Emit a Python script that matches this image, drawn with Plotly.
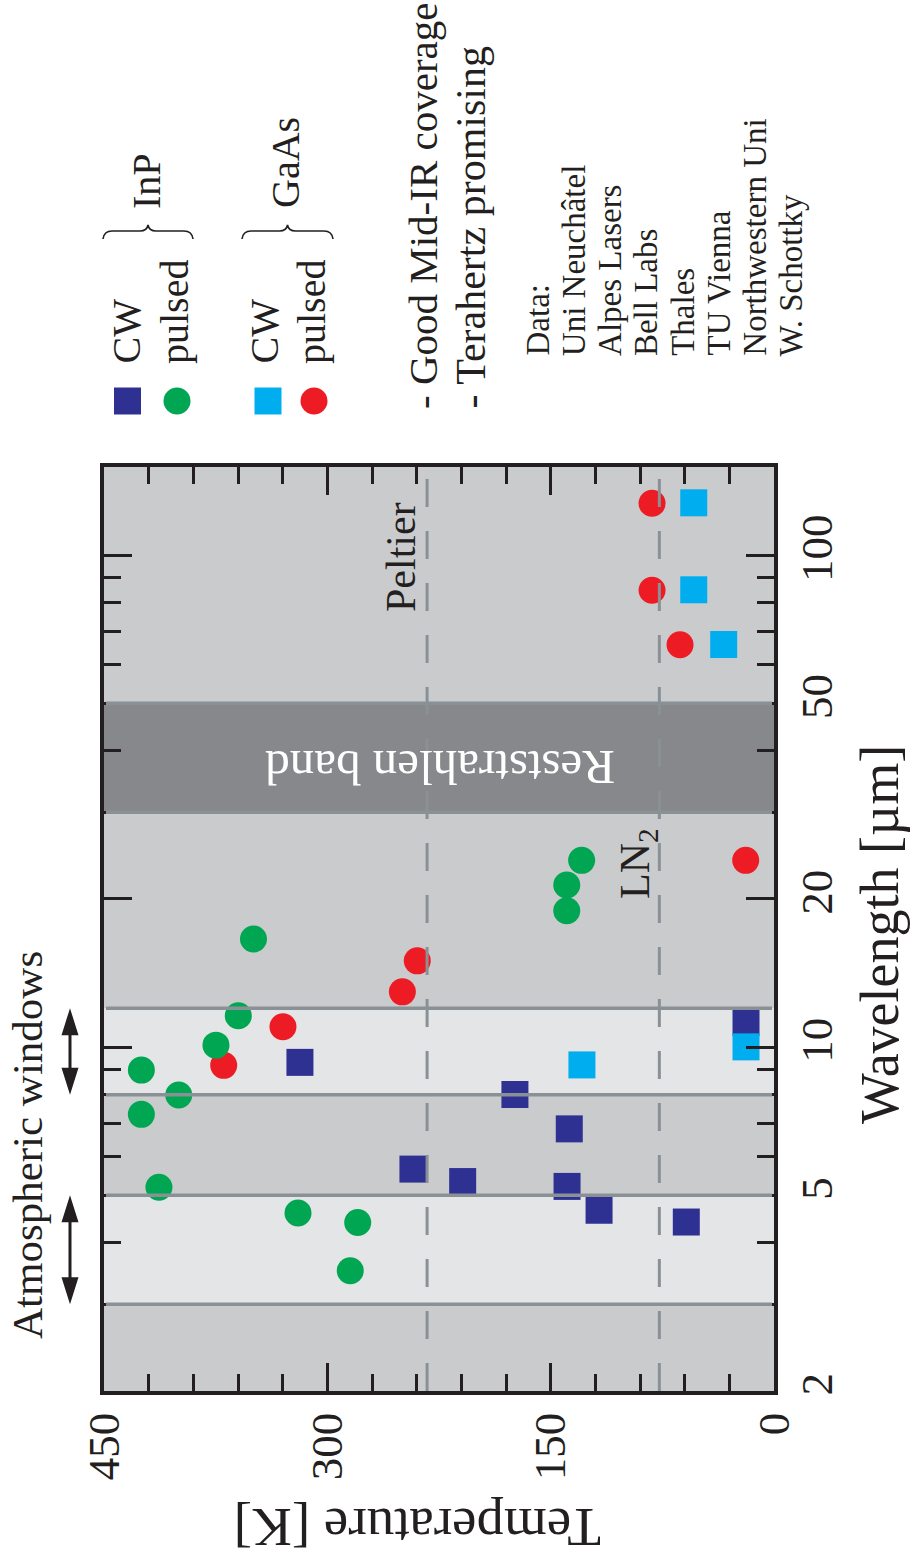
import numpy as np
import plotly.graph_objects as go

# ---------------- data ----------------
inp_cw_T = [318.4, 242.5, 209.1, 174.0, 137.5, 139.0, 117.5, 58.9, 18.8]
inp_cw_wl = [9.31, 5.65, 5.33, 8.01, 6.82, 5.21, 4.66, 4.41, 11.22]

inp_pulsed_T = [424.9, 424.9, 399.8, 413.1, 374.8, 359.8, 349.6, 319.7, 279.6, 284.6, 129.2, 139.2, 139.2]
inp_pulsed_wl = [8.98, 7.30, 7.99, 5.19, 10.09, 11.58, 16.58, 4.60, 4.40, 3.51, 23.96, 21.35, 18.93]

gaas_cw_T = [129.0, 18.8, 33.8, 53.9, 53.9]
gaas_cw_wl = [9.20, 10.01, 65.8, 85.0, 127.7]

gaas_pulsed_T = [369.6, 329.8, 249.6, 239.6, 19.0, 63.1, 81.9, 81.9]
gaas_pulsed_wl = [9.18, 11.0, 12.95, 14.97, 23.96, 65.7, 84.8, 127.4]

atm_windows = [(3, 5), (8, 12)]
reststrahlen = (30, 50)
peltier_T = 233
ln2_T = 77

temp_ticks = [450, 300, 150, 0]
temp_minor = [30, 60, 90, 120, 180, 210, 240, 270, 330, 360, 390, 420]
wl_ticks = [2, 5, 10, 20, 50, 100]
wl_minor = [3, 4, 6, 7, 8, 9, 30, 40, 60, 70, 80, 90]
wl_range = (2, 151)
temp_range = (450, 0)

data_sources = ["Data:", "Uni Neuchâtel", "Alpes Lasers", "Bell Labs", "Thales",
                "TU Vienna", "Northwestern Uni", "W. Schottky"]

# ---------------- styling ----------------
C_INP_CW = "#2e3192"
C_INP_P = "#00a651"
C_GAAS_CW = "#00aeef"
C_GAAS_P = "#ed1c24"
INK = "#231f20"
BG = "#cacbcd"
LIGHT = "#e4e5e6"
DARK = "#87888b"
LINEG = "#8a9196"
FONT = "Liberation Serif"

W, H = 914, 1566
L, R, T, B = 104, 140, 467, 175
PW, PH = W - L - R, H - T - B


def px(p):
    return (p - L) / PW


def py(p):
    return (H - B - p) / PH


Y0, Y1 = np.log10(wl_range[0]), np.log10(wl_range[1])


def wl_paper(v):
    return float((np.log10(v) - Y0) / (Y1 - Y0))


fig = go.Figure()

fig.add_trace(go.Scatter(x=inp_cw_T, y=inp_cw_wl, mode="markers",
                         marker=dict(symbol="square", size=27, color=C_INP_CW, line=dict(width=0))))
fig.add_trace(go.Scatter(x=gaas_cw_T, y=gaas_cw_wl, mode="markers",
                         marker=dict(symbol="square", size=27, color=C_GAAS_CW, line=dict(width=0))))
fig.add_trace(go.Scatter(x=gaas_pulsed_T, y=gaas_pulsed_wl, mode="markers",
                         marker=dict(symbol="circle", size=27, color=C_GAAS_P, line=dict(width=0))))
fig.add_trace(go.Scatter(x=inp_pulsed_T, y=inp_pulsed_wl, mode="markers",
                         marker=dict(symbol="circle", size=27, color=C_INP_P, line=dict(width=0))))

shapes = []
# atmospheric windows (light bands)
for a, b in atm_windows:
    shapes.append(dict(type="rect", xref="paper", yref="paper", x0=0, x1=1,
                       y0=wl_paper(a), y1=wl_paper(b), fillcolor=LIGHT,
                       line=dict(width=0), layer="below"))
# reststrahlen band
shapes.append(dict(type="rect", xref="paper", yref="paper", x0=0, x1=1,
                   y0=wl_paper(reststrahlen[0]), y1=wl_paper(reststrahlen[1]),
                   fillcolor=DARK, line=dict(width=0), layer="below"))
# boundary lines
for v in [w for pair in atm_windows for w in pair] + list(reststrahlen):
    shapes.append(dict(type="line", xref="paper", yref="paper", x0=0.003, x1=0.997,
                       y0=wl_paper(v), y1=wl_paper(v),
                       line=dict(color=LINEG, width=3.5), layer="above"))
# dashed temperature lines
for tv in (peltier_T, ln2_T):
    shapes.append(dict(type="line", xref="x", yref="paper", x0=tv, x1=tv, y0=0, y1=1,
                       line=dict(color=LINEG, width=3, dash="28px,24px"), layer="above"))

# double arrows for atmospheric windows
AX = px(70)
hl = 27 / PH
hw = 8.5 / PW
for a, b in atm_windows:
    ytop = wl_paper(b)
    ybot = wl_paper(a)
    shapes.append(dict(type="line", xref="paper", yref="paper", x0=AX, x1=AX,
                       y0=ybot + hl * 0.7, y1=ytop - hl * 0.7,
                       line=dict(color=INK, width=3)))
    path = (f"M{AX},{ytop} L{AX - hw},{ytop - hl} L{AX + hw},{ytop - hl} Z "
            f"M{AX},{ybot} L{AX - hw},{ybot + hl} L{AX + hw},{ybot + hl} Z")
    shapes.append(dict(type="path", xref="paper", yref="paper", path=path,
                       fillcolor=INK, line=dict(width=0)))


# legend keys
def key_shape(kind, cx, cy, color, s=27):
    return dict(type="rect" if kind == "square" else "circle", xref="paper", yref="paper",
                xsizemode="pixel", ysizemode="pixel", xanchor=px(cx), yanchor=py(cy),
                x0=-s / 2, x1=s / 2, y0=-s / 2, y1=s / 2,
                fillcolor=color, line=dict(width=0))


shapes.append(key_shape("square", 127.5, 401, C_INP_CW))
shapes.append(key_shape("circle", 177, 401, C_INP_P))
shapes.append(key_shape("square", 268, 401, C_GAAS_CW))
shapes.append(key_shape("circle", 314, 401, C_GAAS_P))


# curly braces
def brace(x0, x1, yb, yt, ytip):
    xm = (x0 + x1) / 2
    pts = [
        ("M", [(x0, yb)]),
        ("Q", [(x0 + 1, yt), (x0 + 9, yt)]),
        ("L", [(xm - 8, yt)]),
        ("Q", [(xm - 1, yt), (xm, ytip)]),
        ("Q", [(xm + 1, yt), (xm + 8, yt)]),
        ("L", [(x1 - 9, yt)]),
        ("Q", [(x1 - 1, yt), (x1, yb)]),
    ]
    s = ""
    for cmd, ps in pts:
        s += cmd + " ".join(f"{px(a):.5f},{py(b):.5f}" for a, b in ps) + " "
    return dict(type="path", xref="paper", yref="paper", path=s,
                line=dict(color=INK, width=1.6))


shapes.append(brace(103, 193, 239, 231, 225))
shapes.append(brace(242, 333, 239, 231, 225))

annotations = []


def txt(text, cx, cy, size, angle=-90, color=INK, yanchor="middle", xanchor="center"):
    annotations.append(dict(text=text, xref="paper", yref="paper", x=px(cx), y=py(cy),
                            showarrow=False, textangle=angle, xanchor=xanchor, yanchor=yanchor,
                            font=dict(family=FONT, size=size, color=color)))


txt("Atmospheric windows", 27, 1145, 43)
txt("Peltier", 401, 557, 42)
txt("LN<sub>2</sub>", 638, 864, 42)
txt("Reststrahlen band", 440, 768, 49, angle=180, color="white")
txt("Temperature [K]", 418, 1528, 55, angle=180)
txt("Wavelength [µm]", 880, 935, 54)

# legend text
txt("CW", 126, 366, 40, yanchor="bottom")
txt("pulsed", 174, 366, 40, yanchor="bottom")
txt("InP", 146, 181, 40)
txt("CW", 264, 366, 40, yanchor="bottom")
txt("pulsed", 311, 366, 40, yanchor="bottom")
txt("GaAs", 285, 163, 40)
txt("- Good Mid-IR coverage", 423, 411, 41, yanchor="bottom")
txt("- Terahertz promising", 470, 411, 42, yanchor="bottom")
for i, s in enumerate(data_sources):
    txt(s, 538 + 36.2 * i, 358, 33, yanchor="bottom")

fig.update_layout(
    width=W, height=H,
    margin=dict(l=L, r=R, t=T, b=B, pad=0),
    paper_bgcolor="white", plot_bgcolor=BG,
    showlegend=False,
    font=dict(family=FONT, color=INK),
    shapes=shapes, annotations=annotations,
    xaxis=dict(
        range=list(temp_range), showgrid=False, zeroline=False,
        showline=True, linecolor=INK, linewidth=3.5, mirror="allticks",
        ticks="inside", ticklen=28, tickwidth=3, tickcolor=INK,
        tickvals=temp_ticks, ticktext=[str(v) for v in temp_ticks],
        tickangle=-90, tickfont=dict(family=FONT, size=45, color=INK),
        minor=dict(tickvals=temp_minor, ticks="inside", ticklen=17, tickwidth=3,
                   tickcolor=INK, showgrid=False),
    ),
    yaxis=dict(
        type="log", range=[Y0, Y1], side="right", showgrid=False, zeroline=False,
        showline=True, linecolor=INK, linewidth=3.5, mirror="allticks",
        ticks="inside", ticklen=28, tickwidth=3, tickcolor=INK,
        tickvals=wl_ticks, ticktext=[str(v) for v in wl_ticks],
        tickangle=-90, tickfont=dict(family=FONT, size=45, color=INK),
        minor=dict(tickvals=wl_minor, ticks="inside", ticklen=17, tickwidth=3,
                   tickcolor=INK, showgrid=False),
    ),
)

fig.write_html("out.html", config={"displayModeBar": False},
               post_script="document.body.style.margin='0px';")
